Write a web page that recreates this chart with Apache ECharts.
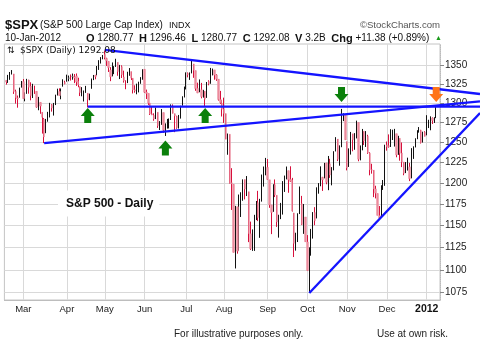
<!DOCTYPE html>
<html><head><meta charset="utf-8">
<script src="https://cdn.jsdelivr.net/npm/echarts@6/dist/echarts.min.js"></script>
<style>html,body{margin:0;padding:0;background:#fff}#c{width:480px;height:357px}</style>
</head><body><div id="c"></div>
<script>
const dates = [
'2011-02-15','2011-02-16','2011-02-17','2011-02-18','2011-02-22','2011-02-23','2011-02-24','2011-02-25','2011-02-28',
'2011-03-01','2011-03-02','2011-03-03','2011-03-04','2011-03-07','2011-03-08','2011-03-09','2011-03-10','2011-03-11','2011-03-14','2011-03-15','2011-03-16','2011-03-17','2011-03-18','2011-03-21','2011-03-22','2011-03-23','2011-03-24','2011-03-25','2011-03-28','2011-03-29','2011-03-30','2011-03-31',
'2011-04-01','2011-04-04','2011-04-05','2011-04-06','2011-04-07','2011-04-08','2011-04-11','2011-04-12','2011-04-13','2011-04-14','2011-04-15','2011-04-18','2011-04-19','2011-04-20','2011-04-21','2011-04-25','2011-04-26','2011-04-27','2011-04-28','2011-04-29',
'2011-05-02','2011-05-03','2011-05-04','2011-05-05','2011-05-06','2011-05-09','2011-05-10','2011-05-11','2011-05-12','2011-05-13','2011-05-16','2011-05-17','2011-05-18','2011-05-19','2011-05-20','2011-05-23','2011-05-24','2011-05-25','2011-05-26','2011-05-27','2011-05-31',
'2011-06-01','2011-06-02','2011-06-03','2011-06-06','2011-06-07','2011-06-08','2011-06-09','2011-06-10','2011-06-13','2011-06-14','2011-06-15','2011-06-16','2011-06-17','2011-06-20','2011-06-21','2011-06-22','2011-06-23','2011-06-24','2011-06-27','2011-06-28','2011-06-29','2011-06-30',
'2011-07-01','2011-07-05','2011-07-06','2011-07-07','2011-07-08','2011-07-11','2011-07-12','2011-07-13','2011-07-14','2011-07-15','2011-07-18','2011-07-19','2011-07-20','2011-07-21','2011-07-22','2011-07-25','2011-07-26','2011-07-27','2011-07-28','2011-07-29',
'2011-08-01','2011-08-02','2011-08-03','2011-08-04','2011-08-05','2011-08-08','2011-08-09','2011-08-10','2011-08-11','2011-08-12','2011-08-15','2011-08-16','2011-08-17','2011-08-18','2011-08-19','2011-08-22','2011-08-23','2011-08-24','2011-08-25','2011-08-26','2011-08-29','2011-08-30','2011-08-31',
'2011-09-01','2011-09-02','2011-09-06','2011-09-07','2011-09-08','2011-09-09','2011-09-12','2011-09-13','2011-09-14','2011-09-15','2011-09-16','2011-09-19','2011-09-20','2011-09-21','2011-09-22','2011-09-23','2011-09-26','2011-09-27','2011-09-28','2011-09-29','2011-09-30',
'2011-10-03','2011-10-04','2011-10-05','2011-10-06','2011-10-07','2011-10-10','2011-10-11','2011-10-12','2011-10-13','2011-10-14','2011-10-17','2011-10-18','2011-10-19','2011-10-20','2011-10-21','2011-10-24','2011-10-25','2011-10-26','2011-10-27','2011-10-28','2011-10-31',
'2011-11-01','2011-11-02','2011-11-03','2011-11-04','2011-11-07','2011-11-08','2011-11-09','2011-11-10','2011-11-11','2011-11-14','2011-11-15','2011-11-16','2011-11-17','2011-11-18','2011-11-21','2011-11-22','2011-11-23','2011-11-25','2011-11-28','2011-11-29','2011-11-30',
'2011-12-01','2011-12-02','2011-12-05','2011-12-06','2011-12-07','2011-12-08','2011-12-09','2011-12-12','2011-12-13','2011-12-14','2011-12-15','2011-12-16','2011-12-19','2011-12-20','2011-12-21','2011-12-22','2011-12-23','2011-12-27','2011-12-28','2011-12-29','2011-12-30',
'2012-01-03','2012-01-04','2012-01-05','2012-01-06','2012-01-09','2012-01-10'
];
const opens = [
1330.4,1329.5,1334.4,1340.4,1338.9,1315.4,1307.1,1307.3,1321.6,
1328.6,1305.9,1312.4,1330.7,1322.7,1311.1,1319.9,1315.7,1293.4,1301.2,1288.5,1279.5,1261.6,1276.7,1281.7,1298.3,1292.2,1300.6,1311.8,1315.5,1309.4,1321.9,1327.4,
1329.5,1333.6,1332.0,1335.9,1334.8,1336.2,1329.0,1322.0,1314.0,1311.1,1314.5,1313.3,1306.0,1319.1,1333.2,1337.1,1336.8,1348.4,1353.9,1360.1,
1365.2,1359.8,1355.9,1344.2,1340.2,1340.2,1348.3,1354.5,1339.4,1348.7,1334.8,1326.1,1328.5,1342.4,1342.0,1333.1,1317.7,1316.4,1320.6,1325.7,1331.1,
1345.2,1314.6,1312.9,1300.3,1286.3,1284.6,1279.6,1288.3,1271.3,1272.2,1287.9,1265.5,1268.6,1271.5,1278.4,1295.5,1286.6,1283.0,1268.4,1280.2,1296.9,1307.6,
1320.6,1339.6,1337.6,1339.6,1352.4,1343.3,1319.6,1314.5,1317.7,1308.9,1315.9,1307.1,1328.7,1325.7,1343.8,1344.3,1337.4,1331.9,1304.8,1300.1,
1292.6,1286.6,1254.3,1260.2,1200.3,1198.5,1120.2,1171.8,1121.3,1172.9,1178.9,1204.2,1192.9,1189.6,1140.5,1123.6,1124.4,1162.2,1176.7,1158.9,1177.9,1209.8,1213.0,
1219.1,1203.9,1174.0,1165.9,1198.0,1185.4,1153.5,1162.6,1173.3,1189.4,1209.2,1215.0,1204.5,1203.6,1164.6,1128.8,1136.9,1163.3,1175.4,1151.7,1159.9,
1131.2,1097.4,1124.0,1144.1,1165.0,1158.2,1194.6,1196.2,1207.0,1205.7,1224.5,1200.8,1223.5,1209.9,1215.4,1238.7,1254.2,1229.2,1244.0,1284.4,1285.0,
1251.0,1219.6,1238.3,1260.8,1253.2,1261.1,1275.2,1229.6,1240.1,1263.9,1251.7,1257.8,1236.6,1216.2,1215.6,1193.0,1187.5,1161.4,1158.7,1192.6,1196.7,
1246.9,1246.0,1244.3,1257.2,1258.1,1260.9,1234.5,1255.1,1236.8,1225.7,1212.1,1216.1,1219.7,1205.7,1241.3,1243.7,1254.0,1265.0,1265.4,1249.8,1262.8,
1258.9,1277.0,1277.3,1280.9,1277.8,1280.8
];
const highs = [
1330.4,1337.6,1341.5,1344.1,1338.9,1317.9,1310.2,1320.6,1329.4,
1332.1,1314.4,1332.3,1331.1,1327.7,1325.7,1323.2,1315.7,1308.4,1301.2,1288.5,1280.9,1279.8,1288.9,1300.6,1299.0,1300.5,1311.3,1319.2,1319.7,1319.5,1331.7,1329.8,
1337.9,1336.7,1338.2,1339.4,1338.8,1339.5,1333.8,1322.0,1321.3,1316.8,1322.9,1313.3,1312.7,1332.7,1337.5,1337.6,1349.6,1357.5,1361.7,1364.6,
1370.6,1360.8,1355.9,1348.0,1354.4,1349.4,1359.4,1354.5,1351.1,1350.5,1343.3,1330.4,1341.8,1346.8,1342.0,1333.1,1323.7,1325.9,1328.5,1334.6,1345.2,
1345.2,1318.0,1312.9,1300.3,1296.2,1287.0,1294.5,1288.3,1277.0,1292.5,1287.9,1274.1,1279.8,1280.4,1298.6,1298.6,1286.6,1283.9,1284.9,1296.8,1309.2,1322.0,
1341.0,1340.9,1340.9,1356.5,1352.4,1343.3,1327.2,1331.5,1326.9,1317.7,1315.9,1328.1,1330.4,1347.0,1346.1,1344.3,1338.5,1331.9,1316.3,1304.2,
1307.4,1286.6,1261.2,1260.2,1218.1,1198.5,1172.9,1171.8,1186.3,1189.0,1204.5,1204.2,1208.5,1189.6,1154.5,1145.5,1162.4,1178.6,1190.7,1181.2,1210.3,1220.1,1230.7,
1229.3,1203.9,1174.0,1198.6,1204.4,1185.4,1162.5,1176.4,1202.4,1209.1,1220.1,1215.0,1220.4,1206.3,1164.6,1141.7,1164.2,1195.9,1184.7,1175.1,1159.9,
1139.0,1125.1,1146.1,1165.6,1171.4,1194.9,1200.0,1220.3,1207.5,1224.6,1224.6,1233.1,1229.6,1219.4,1239.0,1256.6,1254.2,1246.3,1292.7,1287.1,1285.0,
1251.0,1242.5,1263.2,1260.8,1261.7,1277.6,1275.2,1246.2,1267.0,1263.9,1264.3,1259.6,1237.7,1223.5,1215.6,1196.8,1187.5,1172.7,1197.4,1203.7,1247.1,
1251.1,1260.1,1266.7,1266.0,1267.1,1260.9,1258.3,1255.1,1249.9,1225.7,1225.6,1231.0,1224.6,1242.8,1245.1,1255.2,1265.4,1269.4,1265.9,1263.5,1264.1,
1284.6,1278.7,1283.1,1281.8,1282.0,1296.5
];
const lows = [
1324.6,1326.9,1331.0,1338.1,1312.3,1299.6,1294.3,1307.3,1320.6,
1306.1,1302.6,1312.4,1312.6,1303.9,1306.9,1312.3,1294.2,1291.0,1286.4,1261.1,1249.1,1261.6,1276.2,1281.7,1289.2,1284.1,1297.7,1310.2,1310.2,1305.3,1321.9,1325.0,
1328.5,1329.1,1330.0,1331.1,1326.6,1322.9,1321.1,1309.5,1309.2,1302.4,1313.7,1294.7,1304.0,1319.1,1330.6,1331.7,1336.8,1344.3,1352.9,1358.7,
1358.6,1349.5,1341.5,1329.2,1335.6,1338.6,1348.3,1336.4,1332.0,1333.4,1327.3,1318.5,1326.6,1336.4,1330.7,1312.9,1313.9,1311.8,1314.3,1325.7,1331.1,
1313.7,1305.6,1297.9,1284.9,1284.7,1277.4,1279.6,1268.3,1265.6,1272.2,1261.9,1258.1,1267.4,1267.6,1278.4,1286.8,1262.9,1267.2,1267.5,1280.2,1296.9,1307.6,
1318.2,1334.3,1330.9,1339.6,1333.7,1316.4,1313.3,1314.5,1306.5,1307.4,1295.9,1307.1,1323.7,1325.7,1336.9,1331.1,1329.6,1303.5,1299.2,1282.9,
1274.7,1254.0,1234.6,1199.5,1168.1,1119.3,1101.5,1118.0,1121.3,1159.9,1178.9,1180.5,1184.5,1131.0,1122.1,1121.1,1121.1,1156.3,1155.1,1135.9,1177.9,1195.8,1209.4,
1203.9,1170.6,1140.1,1165.9,1183.3,1148.4,1136.1,1157.4,1162.7,1189.4,1204.5,1188.4,1201.3,1166.2,1114.2,1121.4,1131.1,1163.3,1150.5,1140.4,1131.3,
1098.9,1074.8,1115.7,1135.0,1150.3,1158.2,1187.3,1196.2,1190.6,1205.7,1198.6,1191.5,1206.3,1197.3,1215.4,1238.7,1226.8,1221.1,1244.0,1277.0,1253.2,
1215.4,1219.6,1234.8,1238.9,1240.8,1255.0,1226.6,1227.7,1240.1,1246.7,1244.3,1235.7,1209.4,1211.4,1183.2,1181.7,1161.8,1158.7,1158.7,1191.8,1196.7,
1239.7,1243.4,1244.3,1253.0,1244.8,1231.5,1234.5,1227.3,1219.4,1209.5,1212.1,1215.2,1202.4,1205.7,1229.5,1243.7,1254.0,1262.3,1248.6,1249.8,1257.5,
1258.9,1268.1,1265.3,1273.3,1274.6,1280.8
];
const closes = [
1328.0,1336.3,1340.4,1343.0,1315.4,1307.4,1306.1,1319.9,1327.2,
1306.3,1308.4,1331.0,1321.2,1310.1,1321.8,1320.0,1295.1,1304.3,1296.4,1281.9,1256.9,1273.7,1279.2,1298.4,1293.8,1297.5,1309.7,1313.8,1310.2,1319.4,1328.3,1325.8,
1332.4,1332.9,1332.6,1335.5,1333.5,1328.2,1324.5,1314.2,1314.4,1314.5,1319.7,1305.1,1312.6,1330.4,1337.4,1335.3,1347.2,1355.7,1360.5,1363.6,
1361.2,1356.6,1347.3,1335.1,1340.2,1346.3,1357.2,1342.1,1348.7,1337.8,1329.5,1329.0,1340.7,1343.6,1333.3,1317.4,1316.3,1320.5,1325.7,1331.1,1345.2,
1314.6,1312.9,1300.2,1286.2,1284.9,1279.6,1289.0,1271.0,1271.8,1287.9,1265.4,1267.6,1271.5,1278.4,1295.5,1287.1,1283.5,1268.5,1280.1,1296.7,1307.4,1320.6,
1339.7,1337.9,1339.2,1353.2,1343.8,1319.5,1313.6,1317.7,1308.9,1316.1,1305.4,1326.7,1325.8,1343.8,1345.0,1337.4,1331.9,1304.9,1300.7,1292.3,
1286.9,1254.1,1260.3,1200.1,1199.4,1119.5,1172.5,1120.8,1172.6,1178.8,1204.5,1192.8,1193.9,1140.7,1123.5,1123.8,1162.4,1177.6,1159.3,1176.8,1210.1,1212.9,1218.9,
1204.4,1174.0,1165.2,1198.6,1185.9,1154.2,1162.3,1172.9,1188.7,1209.1,1216.0,1204.1,1202.1,1166.8,1129.6,1136.4,1163.0,1175.4,1151.1,1160.4,1131.4,
1099.2,1124.0,1144.0,1165.0,1155.5,1194.9,1195.5,1207.3,1203.7,1224.6,1200.9,1225.4,1209.9,1215.4,1238.3,1254.2,1229.1,1242.0,1284.6,1285.1,1253.3,
1218.3,1237.9,1261.2,1253.2,1261.1,1275.9,1229.1,1239.7,1263.9,1251.8,1257.8,1236.9,1216.1,1215.7,1193.0,1188.0,1161.8,1158.7,1192.6,1195.2,1247.0,
1244.6,1244.3,1257.1,1258.5,1261.0,1234.4,1255.2,1236.5,1225.7,1211.8,1215.8,1219.7,1205.4,1241.3,1243.7,1254.0,1265.3,1265.4,1249.6,1263.0,1257.6,
1277.1,1277.3,1281.1,1277.8,1280.7,1292.1
];
const yTicks = [1075,1100,1125,1150,1175,1200,1225,1250,1275,1300,1325,1350];
const monthNames = ['Jan','Feb','Mar','Apr','May','Jun','Jul','Aug','Sep','Oct','Nov','Dec'];
const upArrows = [['2011-04-18',1284.2],['2011-06-16',1243.0],['2011-07-18',1284.2]];
const downArrowsGreen = [['2011-10-27',1311.5]];
const downArrowsOrange = [['2012-01-10',1311.5]];
const trendLines = [
  [['2011-05-02',1371.5],['2012-01-10',1319.0]],
  [['2011-04-18',1295.6],['2012-01-10',1295.6]],
  [['2011-03-16',1249.0],['2012-01-10',1297.0]],
  [['2011-10-04',1074.8],['2011-11-25',1157.5]]
];

const FONT = '"Liberation Sans", Arial, sans-serif';
const cats = ['pad0'].concat(dates, ['pad1','pad2']);
const firstOfMonth = {};
dates.forEach((d,i)=>{ const m=d.slice(0,7); if(!(m in firstOfMonth)) firstOfMonth[m]=d; });
const isFirst = v => v.length===10 && firstOfMonth[v.slice(0,7)]===v && v!==dates[0];

const RED='#d8103c', BLACK='#111111', PINK='#ec8a9c', GRAY='#858585';
const barData = dates.map((d,i)=>{
  const prev = i>0 ? closes[i-1] : opens[0];
  const stroke = closes[i] < prev ? RED : BLACK;
  return {value:[d, opens[i], closes[i], lows[i], highs[i]],
          itemStyle:{color:stroke,color0:stroke,borderColor:stroke,borderColor0:stroke}};
});
const bodyData = dates.map((d,i)=>{
  const prev = i>0 ? closes[i-1] : opens[0];
  const filled = closes[i] < opens[i];
  if (!filled) return {value:[d,'-','-','-','-']};
  const fill = closes[i] < prev ? PINK : GRAY;
  return {value:[d, opens[i], closes[i], closes[i], opens[i]],
          itemStyle:{color:fill,color0:fill,borderColor:fill,borderColor0:fill}};
});

const upPath = 'path://M7,0 L14,8 L10.5,8 L10.5,15 L3.5,15 L3.5,8 L0,8 Z';
const downPath = 'path://M3.5,0 L10.5,0 L10.5,7 L14,7 L7,15 L0,7 L3.5,7 Z';

const chart = echarts.init(document.getElementById('c'), null, {renderer:'canvas'});
const option = {
  animation:false,
  backgroundColor:'#fff',
  textStyle:{fontFamily:FONT},
  grid:{left:4.4, right:40, top:44, bottom:57, show:true, borderColor:'#c4c4c4', borderWidth:1, containLabel:false, outerBoundsMode:'none'},
  xAxis:{type:'category', data:cats, boundaryGap:false,
    axisLine:{show:true, lineStyle:{color:'#bdbdbd', width:1}},
    axisTick:{show:false},
    axisLabel:{interval:(idx,v)=>isFirst(v), margin:4, fontSize:9.5, color:'#222', fontFamily:FONT,
      formatter:v=>{ if(!isFirst(v)) return ''; const m=+v.slice(5,7); return m===1 ? '{b|'+v.slice(0,4)+'}' : monthNames[m-1]; },
      rich:{b:{fontWeight:'bold', fontSize:10.5, color:'#111', fontFamily:FONT}}},
    splitLine:{show:true, interval:(idx,v)=>isFirst(v), lineStyle:{color:'#d9d9d9', width:1}}
  },
  yAxis:{type:'log', logBase:10, min:1067.2, max:1379.7, position:'right',
    axisLine:{show:true, lineStyle:{color:'#bbbbbb', type:'dotted'}},
    axisTick:{show:true, customValues:yTicks, length:4, inside:false, lineStyle:{color:'#888'}},
    axisLabel:{customValues:yTicks, margin:5, fontSize:10, color:'#222', fontFamily:FONT, formatter:v=>String(Math.round(v))},
    splitLine:{show:true, lineStyle:{color:'#d9d9d9', width:1}}
  },
  series:[
    {type:'candlestick', data:barData, encode:{x:0, y:[1,2,3,4]}, barWidth:0.8,
     itemStyle:{borderWidth:1}, z:3},
    {type:'candlestick', data:bodyData, encode:{x:0, y:[1,2,3,4]}, barWidth:1.9,
     itemStyle:{borderWidth:0.4}, z:4},
    {type:'scatter', data:upArrows, symbol:upPath, symbolSize:[14,15], itemStyle:{color:'#0b800b', opacity:1}, z:20},
    {type:'scatter', data:downArrowsGreen, symbol:downPath, symbolSize:[14,15], itemStyle:{color:'#0b800b', opacity:1}, z:20},
    {type:'scatter', data:downArrowsOrange, symbol:downPath, symbolSize:[14,15], itemStyle:{color:'#ff7418', opacity:1}, z:20}
  ]
};
chart.setOption(option);

const W = 480;
const lineEls = trendLines.map(([a,b])=>{
  const p1 = chart.convertToPixel({gridIndex:0}, a);
  const p2 = chart.convertToPixel({gridIndex:0}, b);
  const slope = (p2[1]-p1[1])/(p2[0]-p1[0]);
  const y2 = p1[1] + slope*(W - p1[0]);
  return {type:'line', z:15, shape:{x1:p1[0], y1:p1[1], x2:W, y2:y2}, style:{stroke:'#1414ff', lineWidth:2.3}};
});
const txt = (x,y,text,font,extra) => ({type:'text', x:x, y:y, z:30, style:Object.assign({text:text, font:font, fill:'#111', verticalAlign:'middle', textAlign:'left'}, extra||{})});
const texts = [
  txt(5,25,'$SPX','bold 13px '+FONT),
  txt(40,25.5,'(S&P 500 Large Cap Index)','10px '+FONT),
  txt(169,25.5,'INDX','9px '+FONT),
  txt(440,25.5,'\u00A9StockCharts.com','9.6px '+FONT,{fill:'#555',textAlign:'right'}),
  txt(5,38.5,'10-Jan-2012','10px '+FONT),
  {type:'text', x:86, y:38.5, z:30, style:{text:'{b|O} 1280.77  {b|H} 1296.46  {b|L} 1280.77  {b|C} 1292.08  {b|V} 3.2B  {b|Chg} +11.38 (+0.89%)',
     font:'10px '+FONT, fill:'#111', verticalAlign:'middle',
     rich:{b:{font:'bold 11px '+FONT, fill:'#111'}}}},
  txt(435,38,'\u25B2','7px '+FONT,{fill:'#1a9a1a'}),
  txt(7,50.5,'\u21C5','9px "DejaVu Sans"'),
  txt(20,50.5,'$SPX (Daily) 1292.08','9px "DejaVu Sans"'),
  txt(58,203.5,'S&P 500 - Daily','bold 12px '+FONT,{backgroundColor:'#fff', padding:[7,6,7,8]}),
  txt(174,334,'For illustrative purposes only.','10px '+FONT,{fill:'#222'}),
  txt(377,334,'Use at own risk.','10px '+FONT,{fill:'#222'})
];
chart.setOption({graphic:{elements:lineEls.concat(texts)}});
</script>
</body></html>
